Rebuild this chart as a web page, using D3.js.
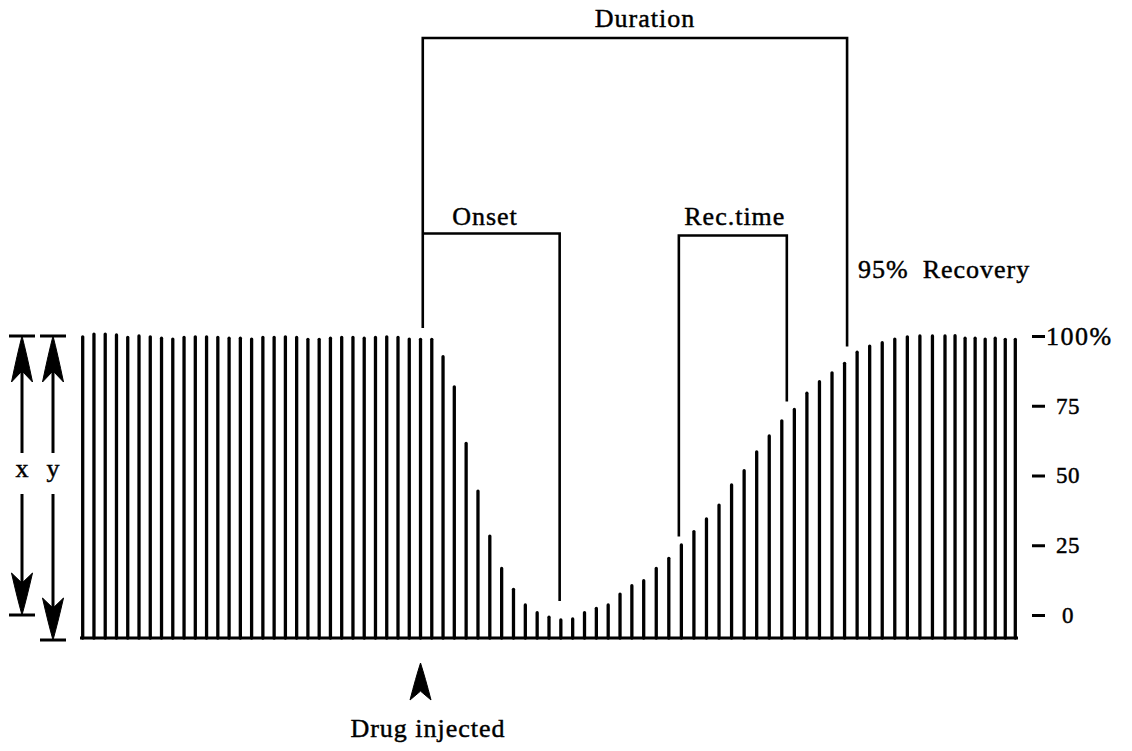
<!DOCTYPE html>
<html>
<head>
<meta charset="utf-8">
<script src="https://cdn.jsdelivr.net/npm/d3@7"></script>
<style>
  body { margin: 0; background: #fff; }
  svg text { font-family: "Liberation Serif", "Times New Roman", serif; fill: #000; stroke: #000; stroke-width: 0.45px; }
</style>
</head>
<body>
<div id="chart"></div>
<script>
// Twitch height (% of control) for each stimulus
const twitch = [
  99.7, 100.7, 100.7, 100.4, 99.5, 100, 99.7, 99.2, 98.9, 99.5,
  99.7, 99.7, 99.5, 99.2, 99.2, 98.9, 99.5, 99.5, 99.7, 99.5,
  98.8, 98.8, 99.2, 99.5, 99.5, 99.2, 99.5, 99.7, 99.5, 98.9,
  98.8, 98.8, 92.6, 81.8, 61.5, 44.4, 28.3, 16.7, 9.2, 3.6,
  0.8, -0.8, -1.8, -1.4, 0.8, 2.4, 3.6, 7.5, 10.5, 12.3,
  16.7, 20.3, 25.1, 29.9, 34.4, 39.4, 46.6, 51.7, 58.5, 64.2,
  69.6, 73.7, 79.5, 83.6, 86.8, 90.2, 94.2, 96.4, 97.6, 98.9,
  99.7, 100, 100, 100, 100.1, 99.2, 99.2, 98.9, 99.2, 98.8, 98.8
];

const tickValues = [0, 25, 50, 75, 100];
const injectedAt = 30;          // stimulus index of the injection

// Bracket end points: stimulus index and level (%) where each leg stops
const durationLegs = [{ i: 30.2, v: 102.9 }, { i: 65.2, v: 96.2 }];
const onsetLeg = { i: 41.9, v: 5.0 };
const recLegs = [{ i: 51.8, v: 28.1 }, { i: 60.4, v: 76.5 }];

const width = 1132, height = 751;

// stimuli were not drawn evenly, so the time scale is piecewise
const x = d3.scaleLinear()
  .domain([0, 33, 49, 73, 80])
  .range([82.7, 454.3, 643.7, 945, 1015.3]);

const y = d3.scaleLinear().domain([0, 100]).range([615, 336]);
const baseY = y(0) + 23;

const svg = d3.select("#chart").append("svg")
  .attr("width", width)
  .attr("height", height);

svg.append("rect").attr("width", width).attr("height", height).attr("fill", "#fff");

// baseline
svg.append("line")
  .attr("x1", 80).attr("x2", 1018)
  .attr("y1", baseY).attr("y2", baseY)
  .attr("stroke", "#000").attr("stroke-width", 3);

// one vertical stroke per twitch
svg.selectAll(".twitch")
  .data(twitch)
  .enter().append("line")
  .attr("class", "twitch")
  .attr("x1", (d, i) => x(i)).attr("x2", (d, i) => x(i))
  .attr("y1", baseY)
  .attr("y2", d => y(d))
  .attr("stroke", "#000")
  .attr("stroke-width", 3.3)
  .attr("stroke-linecap", "round");

// right hand % axis
const axis = svg.append("g")
  .attr("transform", "translate(1032,0)")
  .call(d3.axisRight(y).tickValues(tickValues).tickSize(13).tickPadding(0)
    .tickFormat(d => d === 100 ? "100%" : d));
axis.select(".domain").remove();
axis.selectAll(".tick line").attr("stroke", "#000").attr("stroke-width", 3);
axis.selectAll(".tick text")
  .attr("font-family", "Liberation Serif, serif")
  .attr("font-size", d => d === 100 ? 26 : 23)
  .attr("fill", "#000")
  .attr("text-anchor", d => d === 100 ? "start" : "middle")
  .attr("x", d => d === 100 ? 14 : 36)
  .attr("letter-spacing", d => d === 100 ? 1.5 : 0.5);

// ---- brackets ----
const bracket = svg.append("g")
  .attr("fill", "none")
  .attr("stroke", "#000")
  .attr("stroke-width", 2.6);

const durTop = 38, onsetTop = 233.5, recTop = 235.5;

bracket.append("path")
  .attr("d", `M${x(durationLegs[0].i)},${y(durationLegs[0].v)}V${durTop}` +
             `H${x(durationLegs[1].i)}V${y(durationLegs[1].v)}`);

bracket.append("path")
  .attr("d", `M${x(durationLegs[0].i)},${onsetTop}H${x(onsetLeg.i)}V${y(onsetLeg.v)}`);

bracket.append("path")
  .attr("d", `M${x(recLegs[0].i)},${y(recLegs[0].v)}V${recTop}` +
             `H${x(recLegs[1].i)}V${y(recLegs[1].v)}`);

function label(txt, px, py, anchor) {
  svg.append("text")
    .attr("x", px).attr("y", py)
    .attr("text-anchor", anchor || "middle")
    .attr("font-size", 26)
    .attr("letter-spacing", 1)
    .text(txt);
}

label("Duration", (x(durationLegs[0].i) + x(durationLegs[1].i)) / 2 + 10, 27);
label("Onset", 485, 225);
label("Rec.time", (x(recLegs[0].i) + x(recLegs[1].i)) / 2 + 2, 225);
label("95%\u2002Recovery", 858, 278, "start");
label("Drug injected", 428, 737);

// ---- arrowheads ----
// spear-like head with notched base, tip at origin pointing up
function head(len, w) {
  const n = len * 0.24;
  return `M0,0Q${w * 0.45},${len * 0.4} ${w},${len}L0,${len - n}L${-w},${len}Q${-w * 0.45},${len * 0.4} 0,0Z`;
}

function drawHead(px, py, len, w, down) {
  svg.append("path")
    .attr("d", head(len, w))
    .attr("fill", "#000")
    .attr("stroke", "#000")
    .attr("stroke-width", 1)
    .attr("transform", `translate(${px},${py})` + (down ? " rotate(180)" : ""));
}

// x and y measuring arrows at the left
function measure(px, yTop, yBot, capHalf, labelTxt) {
  const g = svg.append("g").attr("stroke", "#000").attr("stroke-width", 3);
  g.append("line").attr("x1", px - capHalf).attr("x2", px + capHalf).attr("y1", yTop).attr("y2", yTop);
  g.append("line").attr("x1", px - capHalf).attr("x2", px + capHalf).attr("y1", yBot).attr("y2", yBot);
  g.append("line").attr("x1", px).attr("x2", px).attr("y1", yTop + 10).attr("y2", 453);
  g.append("line").attr("x1", px).attr("x2", px).attr("y1", 494).attr("y2", yBot - 10);
  drawHead(px, yTop, 46, 10.5, false);
  drawHead(px, yBot, 42, 10.5, true);
  svg.append("text")
    .attr("x", px).attr("y", 477)
    .attr("text-anchor", "middle")
    .attr("font-size", 26)
    .text(labelTxt);
}

measure(22, y(100), y(0), 13, "x");
measure(53, y(100), baseY + 2, 13, "y");

// injection arrow
drawHead(x(injectedAt), 663, 37, 10.5, false);
</script>
</body>
</html>
